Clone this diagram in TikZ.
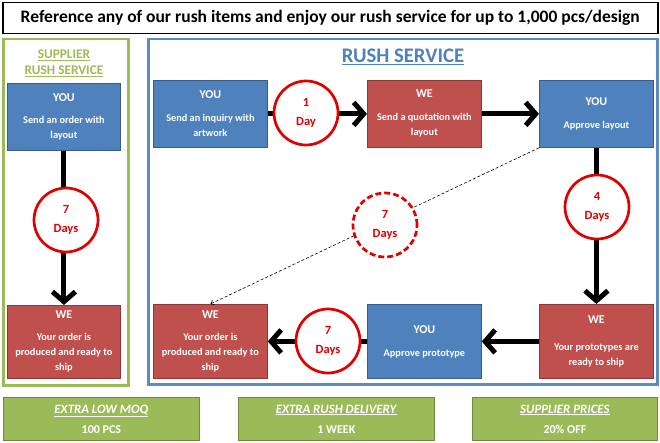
\documentclass[tikz,border=0pt]{standalone}
\usepackage{fontspec}
\setmainfont{Carlito}
\usetikzlibrary{arrows.meta}
\definecolor{boxblue}{HTML}{4F81BD}
\definecolor{boxblueb}{HTML}{385D8A}
\definecolor{boxred}{HTML}{C0504D}
\definecolor{boxredb}{HTML}{8C3836}
\definecolor{ogreen}{HTML}{9BBB59}
\definecolor{ogreenb}{HTML}{71893F}
\definecolor{ringred}{HTML}{E00000}
\definecolor{panelblue}{HTML}{5E8AC4}
\definecolor{titleblue}{HTML}{4F81BD}
\newcommand\hd[1]{{\fontsize{12}{15}\selectfont #1}}
\begin{document}
\begin{tikzpicture}[x=1pt,y=-1pt,
  stepbox/.style={draw, line width=0.8pt, minimum width=114pt, minimum height=67pt, inner sep=0pt, anchor=north west, text=white, align=center, font=\fontsize{10.3}{15}\selectfont\bfseries},
  youbox/.style={stepbox, fill=boxblue, draw=boxblueb},
  webox/.style={stepbox, fill=boxred, draw=boxredb},
  days/.style={circle, draw=ringred, fill=white, line width=2.7pt, minimum size=64pt, inner sep=0pt, text=ringred, align=center, font=\fontsize{12.5}{19}\selectfont\bfseries},
  flow/.style={line width=5pt, -{Straight Barb[length=10pt,width=23pt]}},
  panel/.style={draw, line width=2.5pt, anchor=north west, inner sep=0pt},
  perk/.style={draw=ogreenb, fill=ogreen, line width=0.8pt, anchor=north west, minimum width=196pt, minimum height=43pt, inner sep=0pt, text=white, align=center, font=\fontsize{12}{20}\selectfont\bfseries}]
\useasboundingbox (0,0) rectangle (660,443);
% header
\node[draw, line width=1.5pt, minimum width=655pt, minimum height=31pt, anchor=north west, inner sep=0pt, font=\fontsize{17.5}{18}\selectfont\bfseries] (header) at (2,2) {Reference any of our rush items and enjoy our rush service for up to 1,000 pcs/design};
% panels
\node[panel, draw=ogreen, minimum width=125pt, minimum height=346pt] (lpanel) at (2,38) {};
\node[panel, draw=panelblue, minimum width=509pt, minimum height=345pt] (rpanel) at (147,38) {};
\node[text=ogreen, align=center, font=\fontsize{13.3}{16}\selectfont\bfseries] (ltitle) at (64,63) {\underline{SUPPLIER}\\\underline{RUSH SERVICE}};
\node[text=titleblue, font=\fontsize{20.7}{22}\selectfont\bfseries] (rtitle) at (403,57) {\underline{RUSH SERVICE}};
% left panel boxes
\node[youbox, minimum width=113pt] (lyou) at (7,83) {\hd{YOU}\\[7pt]Send an order with\\layout};
\node[webox, minimum width=113pt, minimum height=73pt] (lwe) at (7,305) {\hd{WE}\\[7pt]Your order is\\produced and ready to\\ship};
% right panel boxes
\node[youbox] (you1) at (153,80) {\hd{YOU}\\[8pt]Send an inquiry with\\artwork};
\node[webox] (we1) at (367,80) {\hd{WE}\\[8pt]Send a quotation with\\layout};
\node[youbox] (you2) at (539,80) {\hd{YOU}\\[8pt]Approve layout};
\node[webox, minimum height=74pt] (we2) at (539,304) {\hd{WE}\\[12pt]Your prototypes are\\ready to ship};
\node[youbox, minimum height=74pt] (you3) at (367,304) {\hd{YOU}\\[8pt]Approve prototype};
\node[webox, minimum height=74pt] (we3) at (153,304) {\hd{WE}\\[7pt]Your order is\\produced and ready to\\ship};
% connectors
\draw[flow] (lyou) -- (lwe);
\draw[flow] (you1) -- (we1);
\draw[flow] (we1) -- (you2);
\draw[flow] (you2) -- (we2);
\draw[flow] (we2) -- (you3);
\draw[flow] (you3) -- (we3);
\draw[densely dashed, line width=0.6pt, -{Straight Barb[length=3pt,width=5pt]}] (you2.south west) -- (we3.north);
% day circles
\node[days] (lc) at (66,220) {7\\Days};
\node[days] (c1) at (306,113) {1\\Day};
\node[days] (c4) at (597,207) {4\\Days};
\node[days, dash pattern=on 6pt off 3pt] (c7d) at (385,225) {7\\Days};
\node[days] (c7) at (328,341) {7\\Days};
% perks
\node[perk] (perk1) at (3,397) {\underline{\textit{\fontsize{12.8}{20}\selectfont EXTRA LOW MOQ}}\\100 PCS};
\node[perk] (perk2) at (238,397) {\underline{\textit{\fontsize{12.8}{20}\selectfont EXTRA RUSH DELIVERY}}\\1 WEEK};
\node[perk, minimum width=185pt] (perk3) at (472,397) {\underline{\textit{\fontsize{12.8}{20}\selectfont SUPPLIER PRICES}}\\20\% OFF};
\end{tikzpicture}
\end{document}
